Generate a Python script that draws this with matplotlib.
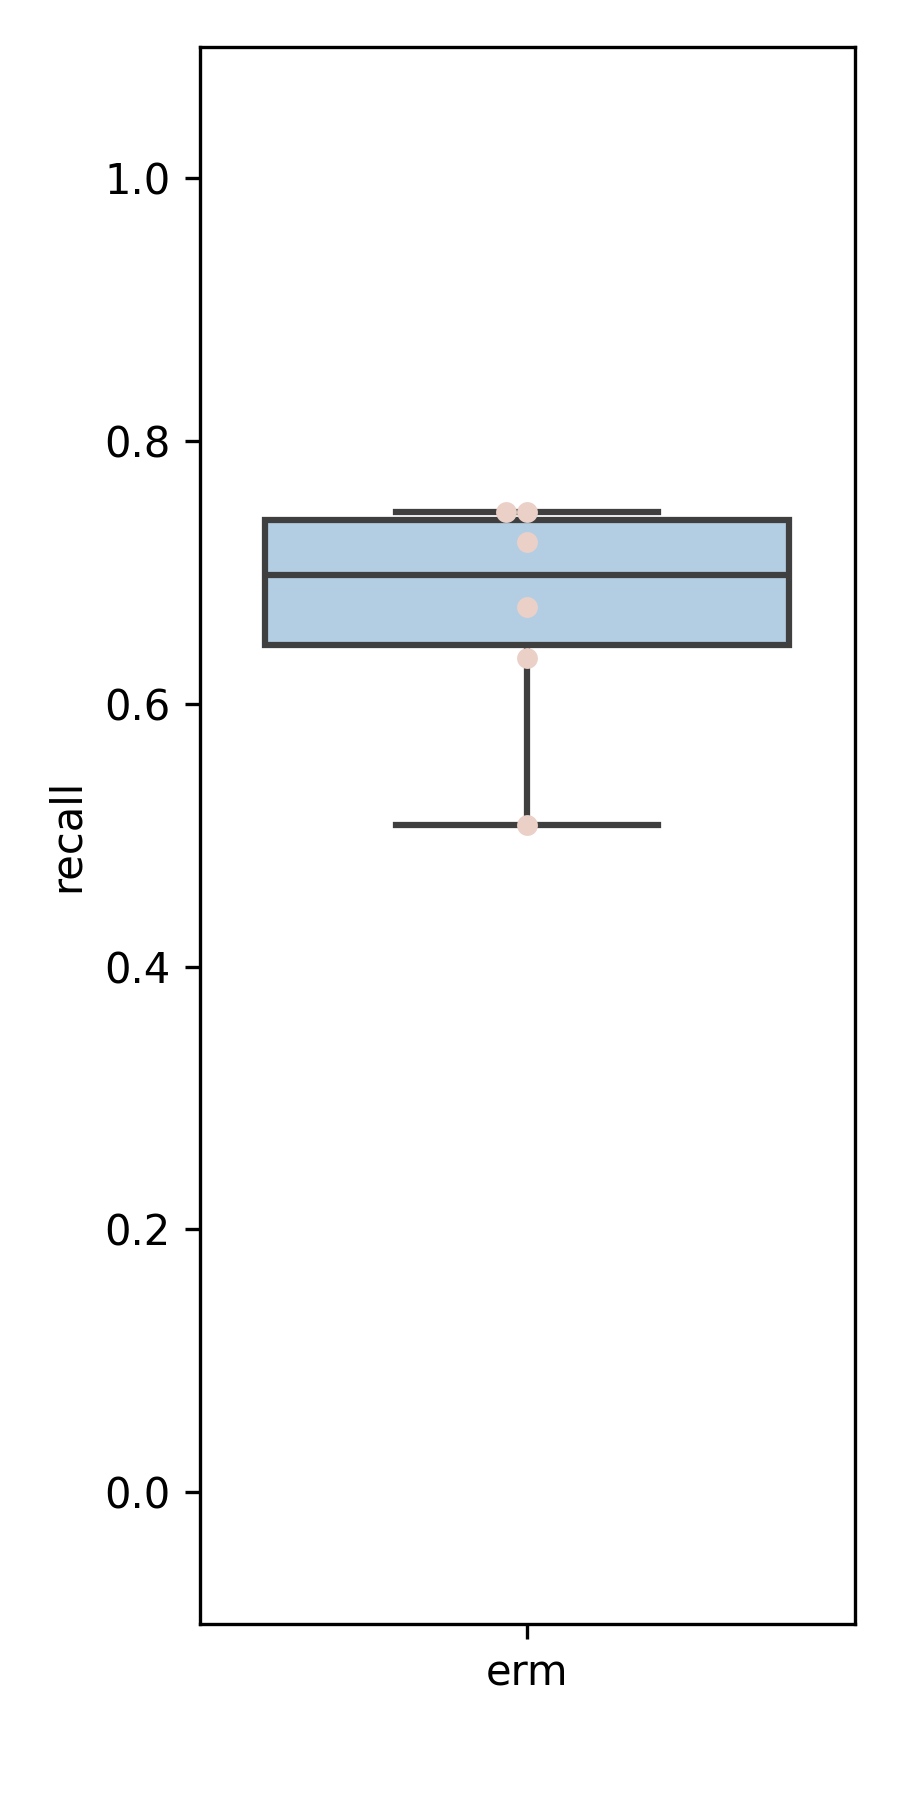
import numpy as np
import pandas as pd
import seaborn as sns
import matplotlib
matplotlib.use("Agg")
import matplotlib.pyplot as plt

# recall per run for the erm model
methods = ["erm"] * 6
recall = [0.5075, 0.6347, 0.6734, 0.7229, 0.7460, 0.7460]

df = pd.DataFrame({"method": methods, "recall": recall})

fig, ax = plt.subplots(figsize=(3, 6), dpi=300)

sns.boxplot(data=df, x="method", y="recall", ax=ax, color="#b3cde3",
            linecolor="#3f3f3f", linewidth=1.5, width=0.8, saturation=1,
            showfliers=False)
sns.swarmplot(data=df, x="method", y="recall", ax=ax, color="#ebd0c8", size=5)

ax.set_ylim(-0.1, 1.1)
ax.set_xlabel("")
ax.set_ylabel("recall")

fig.subplots_adjust(left=0.222, right=0.95, top=0.974, bottom=0.098)
fig.savefig("out.png", dpi=300)
